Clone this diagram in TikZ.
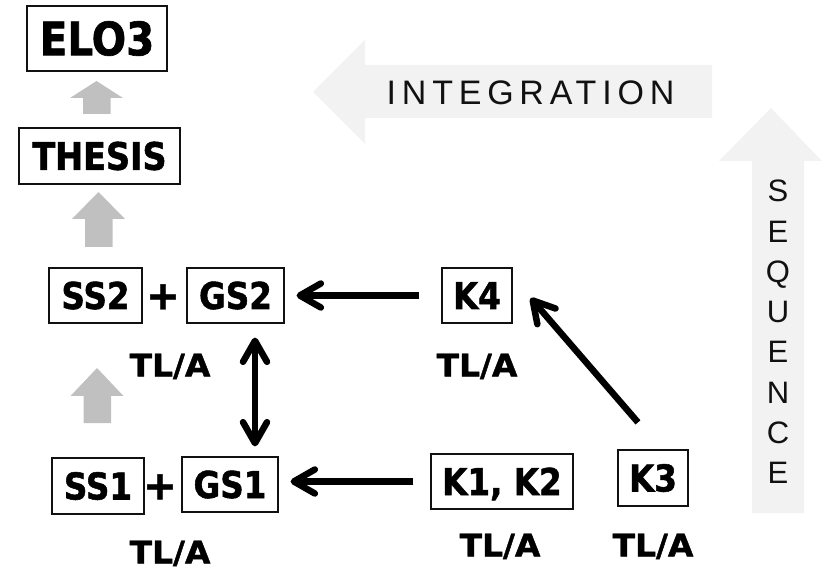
\documentclass[tikz,border=0pt]{standalone}
\usepackage{fontspec}
\setmainfont{DejaVu Sans}[BoldFeatures={FakeBold=1.2}]
\newfontfamily\boxfont{DejaVu Sans}[FakeStretch=0.88, BoldFeatures={FakeBold=1.4}]
\newfontfamily\tlafont{DejaVu Sans}[FakeStretch=1.06, BoldFeatures={FakeBold=1.3}]
\newfontfamily\capfont{Liberation Sans}[LetterSpace=17]
\newfontfamily\seqfont{Liberation Sans}
\usetikzlibrary{arrows.meta}
\definecolor{stepgray}{HTML}{C0C0C0}
\definecolor{bandgray}{HTML}{F2F2F2}
\definecolor{inkblack}{HTML}{111111}
\tikzset{
  box/.style={draw=inkblack, line width=1.2pt, inner sep=0pt, text=black,
    text height=27pt, text depth=0pt,
    font=\boxfont\bfseries\fontsize{37}{40}\selectfont},
  bigbox/.style={box, text height=33.5pt,
    font=\boxfont\bfseries\fontsize{46}{50}\selectfont},
  midbox/.style={box, text height=27.7pt,
    font=\boxfont\bfseries\fontsize{38}{42}\selectfont},
  plus/.style={inner sep=0pt, text height=27pt, text depth=0pt,
    font=\bfseries\fontsize{40}{44}\selectfont},
  tla/.style={inner sep=0pt, text height=22.6pt, text depth=0pt,
    font=\tlafont\bfseries\fontsize{31}{34}\selectfont},
  barb/.tip={Straight Barb[length=21pt,width=24pt,line cap=round,line join=round]},
  conn/.style={line width=6.5pt, draw=black, -barb},
  biconn/.style={line width=6.5pt, draw=black, barb-barb},
}
% small grey upward block arrow: tip x, tip y, head base y, bottom y
\newcommand\steparrow[4]{%
  \fill[stepgray] (#1,#2) -- (#1+26.5,#3) -- (#1+14,#3) -- (#1+14,#4)
    -- (#1-13.5,#4) -- (#1-13.5,#3) -- (#1-26.5,#3) -- cycle;}
\begin{document}
\begin{tikzpicture}[x=1pt,y=-1pt]
\useasboundingbox (0,0) rectangle (831,572);

% broad background arrows
\fill[bandgray] (313,92) -- (365,40) -- (365,65) -- (712,65) -- (712,118)
  -- (365,118) -- (365,144) -- cycle;
\fill[bandgray] (771,108) -- (822,161) -- (804,161) -- (804,513)
  -- (752,513) -- (752,161) -- (719,161) -- cycle;
\node[inner sep=0pt, text=inkblack, font=\capfont\fontsize{34}{38}\selectfont]
  (integ) at (530.5,92.5) {INTEGRATION};
\node[inner sep=0pt, align=center, text=inkblack,
  font=\seqfont\fontsize{31}{40.3}\selectfont] (seq) at (778,332)
  {S\\E\\Q\\U\\E\\N\\C\\E};

% grey step arrows on the left
\steparrow{96.5}{81}{98}{114}
\steparrow{98.5}{192}{219}{247}
\steparrow{97}{368}{396}{423}

% boxes
\node[bigbox, minimum width=140pt, minimum height=65pt] (elo) at (97,38.5) {ELO3};
\node[midbox, minimum width=161pt, minimum height=56pt] (thesis) at (99.5,156) {THESIS};

\node[box, minimum width=93pt, minimum height=55pt] (ss2) at (95.5,295.5) {SS2};
\node[plus] (p2) at (163,296) {+};
\node[box, minimum width=97pt, minimum height=55pt] (gs2) at (235.5,295.5) {GS2};
\node[box, minimum width=70pt, minimum height=55pt] (k4) at (477,295.5) {K4};

\node[box, minimum width=92pt, minimum height=56pt] (ss1) at (98,486) {SS1};
\node[plus] (p1) at (160,486) {+};
\node[box, minimum width=96pt, minimum height=55pt] (gs1) at (230,484.5) {GS1};
\node[box, minimum width=142pt, minimum height=55pt] (k12) at (502,481.5) {K1, K2};
\node[box, minimum width=70pt, minimum height=56pt] (k3) at (653,478) {K3};

% TL/A labels
\node[tla] (t1) at (170,365) {TL/A};
\node[tla] (t2) at (477,365) {TL/A};
\node[tla] (t3) at (170,552) {TL/A};
\node[tla] (t4) at (500,545) {TL/A};
\node[tla] (t5) at (653,545) {TL/A};

% connectors
\draw[conn, shorten <=22pt, shorten >=12pt] (k4.west) -- (gs2.east);
\draw[conn, shorten <=17pt, shorten >=12pt] (k12.west) -- (gs1.east |- k12.west);
\draw[conn] ([xshift=-15pt,yshift=27pt]k3.north) -- ([xshift=18pt,yshift=-2.5pt]k4.east);
\draw[biconn] ([xshift=19.5pt,yshift=-14pt]gs2.south) -- ([xshift=25pt,yshift=10pt]gs1.north);
\end{tikzpicture}
\end{document}
